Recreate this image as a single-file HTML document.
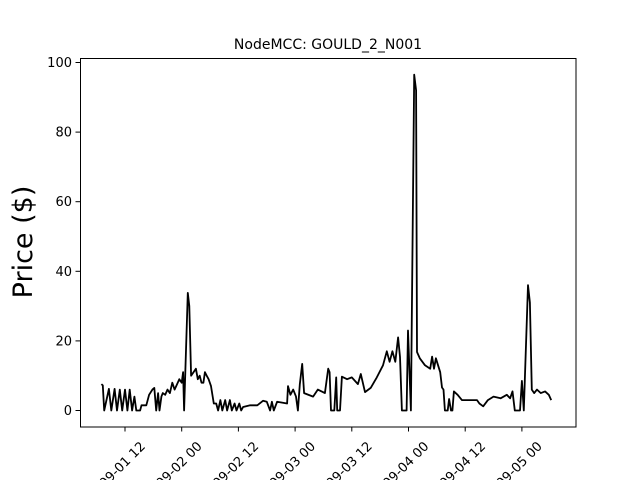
<!DOCTYPE html>
<html><head><meta charset="utf-8"><style>
body{margin:0;background:#fff;}
svg{display:block;font-family:"DejaVu Sans","Liberation Sans",sans-serif;}
</style></head><body>
<svg id="chart" width="640" height="480">
<rect x="0" y="0" width="640" height="480" fill="#fff"/>
<text x="328" y="49" text-anchor="middle" font-size="14">NodeMCC: GOULD_2_N001</text>
<text transform="translate(32,242) rotate(-90)" text-anchor="middle" font-size="27">Price ($)</text>
<g id="marks"></g>
<rect x="80.5" y="58.5" width="495.5" height="368.5" fill="none" stroke="#000" stroke-width="1"/>
<g id="axes"></g>
</svg>
<script>
const times = [7,7.3,7.6,8.6,9.1,9.8,10.3,10.9,11.4,12,12.5,13,13.5,14,14.4,15.2,15.5,16.5,17.1,17.8,18.2,18.6,19,19.3,19.7,20,20.5,21,21.5,22,22.5,23,23.5,24,24.3,24.5,25.3,25.6,26,26.5,27,27.4,27.8,28.2,28.6,28.9,29.3,29.7,30.2,30.8,31.3,31.7,32.2,32.6,33.2,33.6,34.2,34.6,35.2,35.6,36.2,36.6,37,38.5,40,41.2,42,42.7,43.1,43.5,44.2,46.3,46.5,47,47.6,48.2,48.6,49,49.5,49.9,51.8,52.8,54.3,55,55.3,55.6,56.3,56.7,56.9,57.5,57.9,59,60,61.3,61.9,62.8,64,65.3,66.6,67.4,68,68.6,69.2,69.8,70.2,70.6,71.6,71.9,72.5,73.2,73.6,73.8,74.4,75.5,76.6,77,77.4,77.8,78.7,79.1,79.4,79.7,80.3,80.6,81,81.3,81.6,82.4,83.3,86.5,87,87.8,88.8,90,91.5,92.8,93.5,94,94.5,95.6,96,96.4,97.3,97.7,98.1,98.6,99.2,100,100.9,101.7,102.2,102.6];
const prices = [7.6,7.2,0,6.2,0,6.2,0,6,0,6,0,6,0,4,0,0,1.5,1.5,4.5,6,6.5,0,5,0,4,5,4.5,6,5,8,6,7.5,9,8,11,0,33.8,30,10,11,12,9,10,8,8,11,10,9,7,2,2,0,3,0,3,0,3,0,2,0,2,0,1,1.5,1.5,2.8,2.5,0,2.5,0,2.5,2,7,4.5,6,4,0,7.5,13.4,5,4,6,5,12,11,0,0,9.5,0,0,9.7,9,9.5,7.6,10.5,5.3,6.5,9.5,13,17,14,17,14,21,15.4,0,0,23,0,96.5,92,16.8,15,13,12,15.5,12,15,11,6.6,6,0,0,3.3,0,0,5.5,4.5,3,3,2,1.2,3,4,3.5,4.5,3.5,5.5,0,0,8.5,0,36,31,6,5,6,5,5.5,4.5,3];
const tickLabels = ["09-01 12","09-02 00","09-02 12","09-03 00","09-03 12","09-04 00","09-04 12","09-05 00"];
const tickHours = [12,24,36,48,60,72,84,96];
const yTicks = [0,20,40,60,80,100];
const NS="http://www.w3.org/2000/svg";
function xs(t){return 125+(t-12)*4.725;}
function ys(v){return 410.5-v*3.48;}
const marks=document.getElementById('marks');
const axes=document.getElementById('axes');
let d="";
for(let i=0;i<times.length;i++){d+=(i?"L":"M")+xs(times[i]).toFixed(1)+","+ys(prices[i]).toFixed(1);}
const p=document.createElementNS(NS,'path');
p.setAttribute('d',d);p.setAttribute('fill','none');p.setAttribute('stroke','#000');p.setAttribute('stroke-width','1.8');p.setAttribute('stroke-linejoin','round');


marks.appendChild(p);
tickHours.forEach((h,i)=>{
  const x=xs(h);
  const l=document.createElementNS(NS,'line');
  l.setAttribute('x1',x);l.setAttribute('x2',x);l.setAttribute('y1',427);l.setAttribute('y2',431.5);l.setAttribute('stroke','#000');
  
  
  axes.appendChild(l);
  const t=document.createElementNS(NS,'text');
  t.setAttribute('transform','translate('+(x+21)+',447) rotate(-45)');
  t.setAttribute('text-anchor','end');t.setAttribute('font-size','13');
  t.textContent=tickLabels[i];
  
  
  axes.appendChild(t);
});
yTicks.forEach(v=>{
  const y=ys(v);
  const l=document.createElementNS(NS,'line');
  l.setAttribute('x1',75.5);l.setAttribute('x2',80);l.setAttribute('y1',y);l.setAttribute('y2',y);l.setAttribute('stroke','#000');
  
  
  axes.appendChild(l);
  const t=document.createElementNS(NS,'text');
  t.setAttribute('x',72);t.setAttribute('y',y+4.5);t.setAttribute('text-anchor','end');t.setAttribute('font-size','13');
  t.textContent=v;
  
  
  axes.appendChild(t);
});
</script>
</body></html>
